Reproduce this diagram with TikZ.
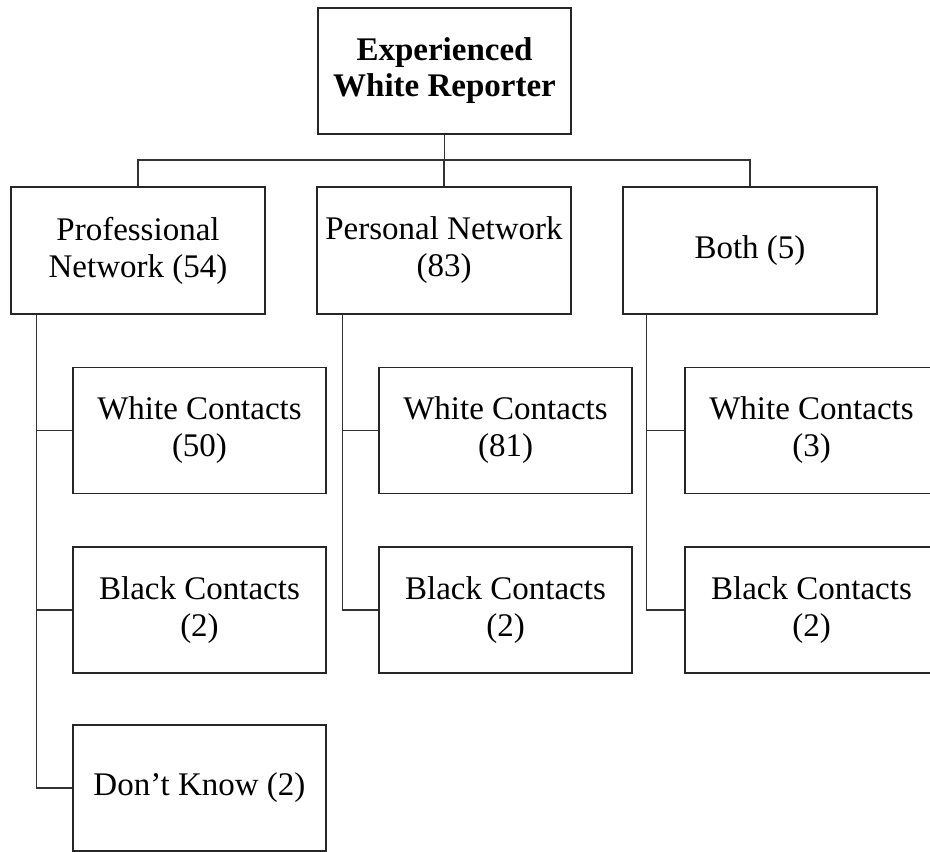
\documentclass[tikz,border=0pt]{standalone}
\usepackage{fontspec}
\setmainfont{Liberation Serif}
\begin{document}
\begin{tikzpicture}[x=1pt,y=-1pt,
  box/.style={draw=black!85, line width=1.5pt, fill=white, inner sep=0pt,
    minimum width=253pt, minimum height=126pt, align=center,
    font=\fontsize{33}{37}\selectfont},
  link/.style={draw=black!80, line width=1.4pt}]
\clip (0,0) rectangle (930,852);
\fill[white] (0,0) rectangle (930,852);

% root
\node[box, font=\fontsize{33}{36}\selectfont\bfseries] (root) at (444.5,71) {Experienced\\White Reporter};

% first level
\node[box, minimum width=254pt, minimum height=127pt] (prof) at (138,250.5) {Professional\\Network (54)};
\node[box, minimum width=254pt, minimum height=127pt] (pers) at (444,250.5) {Personal Network\\(83)};
\node[box, minimum width=254pt, minimum height=127pt] (both) at (750,250.5) {Both (5)};

% second level
\node[box] (pw) at (199.5,430.5) {White Contacts\\(50)};
\node[box] (pb) at (199.5,610) {Black Contacts\\(2)};
\node[box] (pd) at (199.5,788) {Don’t Know (2)};
\node[box] (ew) at (505.5,430.5) {White Contacts\\(81)};
\node[box] (eb) at (505.5,610) {Black Contacts\\(2)};
\node[box] (bw) at (811.5,430.5) {White Contacts\\(3)};
\node[box] (bb) at (811.5,610) {Black Contacts\\(2)};

% bus under the root
\coordinate (bus) at (0,160);
\draw[link] (root.south) -- (root.south |- bus);
\draw[link] (prof.north) -- (prof.north |- bus) -| (both.north);
\draw[link] (pers.north) -- (pers.north |- bus);

% trunks down the left of each group
\coordinate (tp) at ([xshift=26pt]prof.south west);
\coordinate (te) at ([xshift=26pt]pers.south west);
\coordinate (tb) at ([xshift=24pt]both.south west);
\draw[link] (tp) |- (pd.west);
\draw[link] (tp |- pw.west) -- (pw.west);
\draw[link] (tp |- pb.west) -- (pb.west);
\draw[link] (te) |- (eb.west);
\draw[link] (te |- ew.west) -- (ew.west);
\draw[link] (tb) |- (bb.west);
\draw[link] (tb |- bw.west) -- (bw.west);
\end{tikzpicture}
\end{document}
